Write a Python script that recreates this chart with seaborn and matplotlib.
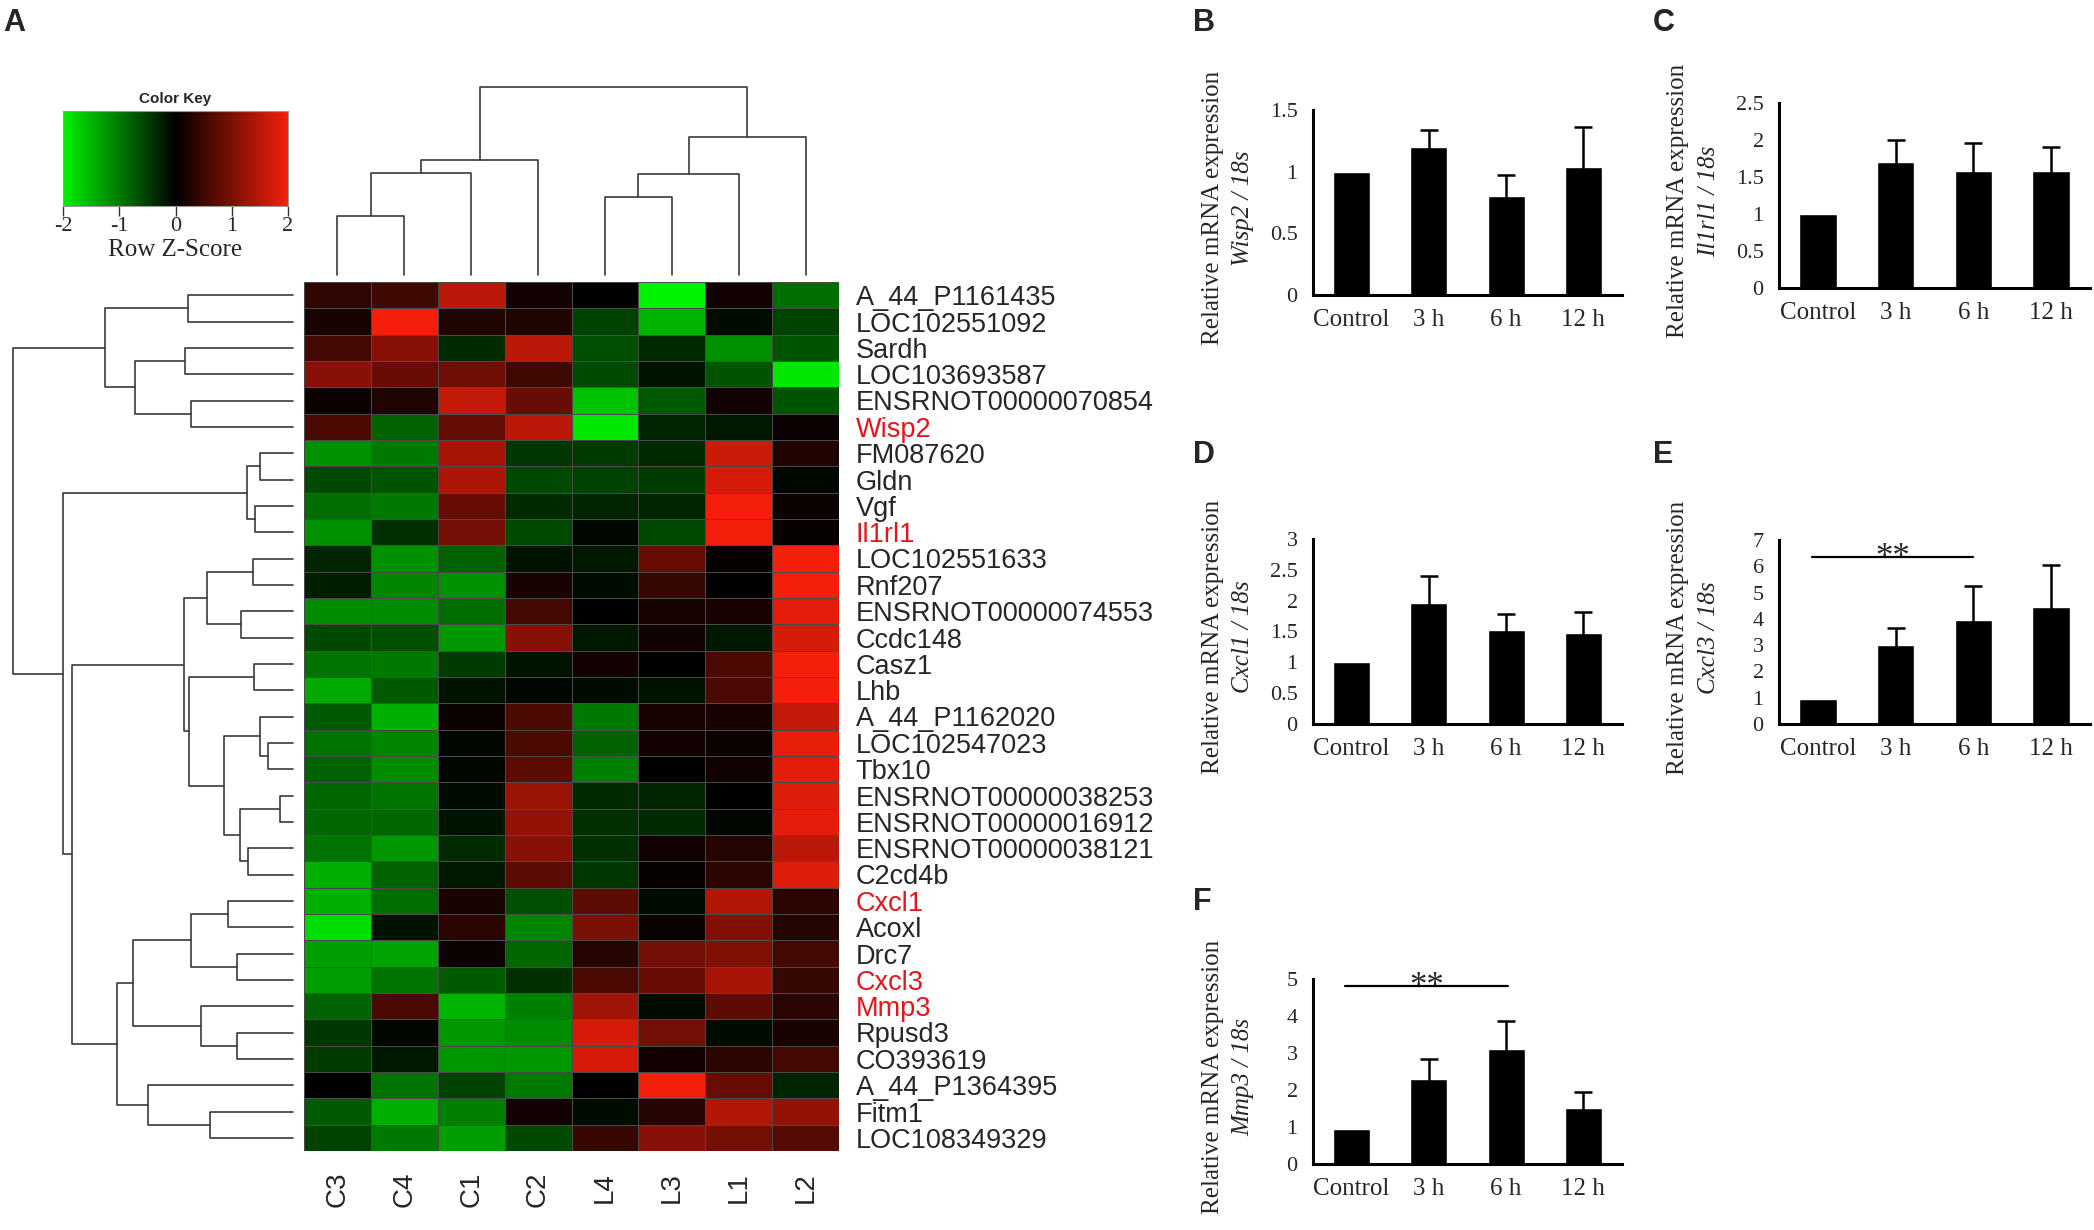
import numpy as np
import pandas as pd
import matplotlib
matplotlib.use("Agg")
import matplotlib.pyplot as plt
import seaborn as sns
from matplotlib.colors import LinearSegmentedColormap

sns.set_style("white")
plt.rcParams['font.family'] = ['Liberation Sans', 'DejaVu Sans']
plt.rcParams['axes.unicode_minus'] = False
SERIF = ['Liberation Serif', 'DejaVu Serif']

W, H = 2094, 1230

# ---- heatmap data (row z-scores, columns in clustered order) ----
samples = ['C3', 'C4', 'C1', 'C2', 'L4', 'L3', 'L1', 'L2']
genes = ['A_44_P1161435', 'LOC102551092', 'Sardh', 'LOC103693587',
         'ENSRNOT00000070854', 'Wisp2', 'FM087620', 'Gldn', 'Vgf', 'Il1rl1',
         'LOC102551633', 'Rnf207', 'ENSRNOT00000074553', 'Ccdc148', 'Casz1',
         'Lhb', 'A_44_P1162020', 'LOC102547023', 'Tbx10',
         'ENSRNOT00000038253', 'ENSRNOT00000016912', 'ENSRNOT00000038121',
         'C2cd4b', 'Cxcl1', 'Acoxl', 'Drc7', 'Cxcl3', 'Mmp3', 'Rpusd3',
         'CO393619', 'A_44_P1364395', 'Fitm1', 'LOC108349329']
highlight = ['Wisp2', 'Il1rl1', 'Cxcl1', 'Cxcl3', 'Mmp3']
zscore = [
    [0.4, 0.5, 1.5, 0.15, 0.0, -2.0, 0.15, -0.9],
    [0.2, 2.0, 0.25, 0.25, -0.55, -1.5, -0.1, -0.55],
    [0.55, 1.1, -0.35, 1.5, -0.65, -0.35, -1.2, -0.7],
    [1.1, 0.85, 0.9, 0.5, -0.6, -0.15, -0.7, -1.9],
    [0.1, 0.25, 1.6, 0.85, -1.6, -0.75, 0.15, -0.7],
    [0.6, -0.8, 0.8, 1.5, -1.9, -0.3, -0.2, 0.1],
    [-1.2, -1.0, 1.35, -0.45, -0.5, -0.35, 1.65, 0.25],
    [-0.6, -0.7, 1.4, -0.6, -0.55, -0.5, 1.75, -0.05],
    [-0.9, -1.0, 0.85, -0.35, -0.3, -0.3, 2.0, 0.1],
    [-1.2, -0.4, 0.95, -0.6, -0.05, -0.6, 2.0, 0.05],
    [-0.3, -1.2, -0.8, -0.15, -0.2, 0.85, 0.05, 2.0],
    [-0.25, -1.1, -1.2, 0.2, -0.1, 0.45, 0.0, 2.0],
    [-1.15, -1.15, -0.9, 0.55, 0.0, 0.2, 0.2, 1.85],
    [-0.6, -0.65, -1.25, 1.1, -0.2, 0.15, -0.2, 1.75],
    [-0.95, -1.0, -0.5, -0.15, 0.15, 0.0, 0.6, 2.0],
    [-1.4, -0.75, -0.15, -0.05, -0.1, -0.15, 0.6, 2.0],
    [-0.75, -1.45, 0.1, 0.6, -1.0, 0.2, 0.2, 1.6],
    [-0.95, -1.1, -0.05, 0.6, -0.8, 0.15, 0.1, 1.9],
    [-0.8, -1.15, -0.05, 0.75, -1.05, 0.0, 0.15, 1.85],
    [-0.85, -0.95, -0.1, 1.25, -0.35, -0.3, 0.0, 1.8],
    [-0.85, -0.85, -0.15, 1.2, -0.4, -0.35, -0.05, 1.85],
    [-0.95, -1.25, -0.35, 1.1, -0.4, 0.15, 0.3, 1.5],
    [-1.45, -0.8, -0.2, 0.75, -0.45, 0.05, 0.35, 1.8],
    [-1.45, -0.9, 0.2, -0.65, 0.75, -0.1, 1.45, 0.35],
    [-1.8, -0.15, 0.35, -1.1, 1.0, 0.1, 1.05, 0.3],
    [-1.3, -1.35, 0.1, -0.85, 0.3, 0.95, 1.05, 0.55],
    [-1.3, -0.95, -0.75, -0.4, 0.6, 0.85, 1.35, 0.45],
    [-0.8, 0.6, -1.5, -1.05, 1.3, -0.1, 0.75, 0.35],
    [-0.45, -0.05, -1.25, -1.15, 1.75, 0.95, -0.1, 0.2],
    [-0.5, -0.2, -1.25, -1.25, 1.75, 0.15, 0.35, 0.55],
    [0.0, -0.95, -0.55, -1.0, 0.0, 2.0, 0.85, -0.3],
    [-0.75, -1.45, -1.05, 0.15, -0.1, 0.3, 1.45, 1.2],
    [-0.55, -1.0, -1.3, -0.6, 0.45, 1.1, 0.95, 0.7],
]

# dendrogram merges (left, right, height); ids >= n are earlier merges
row_merges = [
    (0, 1, 0.376), (2, 3, 0.384), (4, 5, 0.363), (34, 35, 0.564),
    (33, 36, 0.672), (6, 7, 0.118), (8, 9, 0.136), (38, 39, 0.163),
    (10, 11, 0.144), (12, 13, 0.186), (41, 42, 0.308), (14, 15, 0.141),
    (17, 18, 0.088), (16, 45, 0.117), (19, 20, 0.045), (21, 22, 0.159),
    (47, 48, 0.191), (46, 49, 0.248), (44, 50, 0.373), (43, 51, 0.391),
    (23, 24, 0.233), (25, 26, 0.200), (53, 54, 0.365), (28, 29, 0.200),
    (27, 56, 0.329), (55, 57, 0.570), (31, 32, 0.296), (30, 59, 0.517),
    (58, 60, 0.630), (52, 61, 0.788), (40, 62, 0.821), (37, 63, 1.0),
]
col_merges = [
    (0, 1, 0.316), (8, 2, 0.540), (9, 3, 0.610), (4, 5, 0.417),
    (11, 6, 0.537), (12, 7, 0.734), (10, 13, 1.0),
]

# ---- qPCR bar data ----
time_points = ['Control', '3 h', '6 h', '12 h']
panel_genes = ['Wisp2', 'Il1rl1', 'Cxcl1', 'Cxcl3', 'Mmp3']
panel_means = [
    [1.0, 1.2, 0.8, 1.04],
    [1.0, 1.7, 1.58, 1.58],
    [1.0, 1.96, 1.53, 1.47],
    [0.95, 3.0, 3.95, 4.45],
    [0.95, 2.3, 3.1, 1.52],
]
panel_sd = [
    [0.0, 0.14, 0.17, 0.32],
    [0.0, 0.3, 0.38, 0.33],
    [0.0, 0.44, 0.25, 0.34],
    [0.0, 0.65, 1.3, 1.6],
    [0.0, 0.53, 0.77, 0.43],
]
panel_ymax = [1.5, 2.5, 3, 7, 5]
panel_step = [0.5, 0.5, 0.5, 1, 1]
# significance bars: (from, to, height) or None
panel_sig = [None, None, None, (-0.08, 2.0, 6.35), (-0.08, 2.02, 4.8)]
panel_letters = ['B', 'C', 'D', 'E', 'F']

fig = plt.figure(figsize=(W / 100, H / 100), dpi=100)


def box(l, t, r, b):
    return [l / W, 1 - b / H, (r - l) / W, (b - t) / H]


def dendro(ax, merges, n, side):
    pos = {i: i + 0.5 for i in range(n)}
    hgt = {i: 0.0 for i in range(n)}
    for k, (a, b, h) in enumerate(merges):
        p = [pos[a], pos[a], pos[b], pos[b]]
        q = [hgt[a], h, h, hgt[b]]
        if side == 'top':
            ax.plot(p, q, color='#3a3a3a', lw=1.2, clip_on=False)
        else:
            ax.plot(q, p, color='#3a3a3a', lw=1.2, clip_on=False)
        pos[n + k] = (pos[a] + pos[b]) / 2
        hgt[n + k] = h
    ax.axis('off')


# ---- heatmap ----
ax_hm = fig.add_axes(box(304, 282, 839, 1151))
ax_key = fig.add_axes(box(63, 111, 288, 206))
cmap = LinearSegmentedColormap.from_list('redgreen', ['#00f200', '#000000', '#f41f0a'])
df = pd.DataFrame(zscore, index=genes, columns=samples)
sns.heatmap(df, ax=ax_hm, cmap=cmap, vmin=-2, vmax=2, linewidths=0.6,
            linecolor='#4a4a4a', cbar_ax=ax_key,
            cbar_kws={'orientation': 'horizontal', 'ticks': [-2, -1, 0, 1, 2]},
            xticklabels=samples, yticklabels=genes)
ax_hm.yaxis.tick_right()
ax_hm.tick_params(axis='y', length=0, pad=12, labelsize=19.5, labelrotation=0)
ax_hm.tick_params(axis='x', length=0, pad=15, labelsize=20, labelrotation=90)
for lbl in ax_hm.get_yticklabels():
    lbl.set_ha('left')
    if lbl.get_text() in highlight:
        lbl.set_color('#e8141c')

cbar = ax_hm.collections[0].colorbar
cbar.outline.set_linewidth(0.8)
cbar.outline.set_edgecolor('#999999')
cbar.set_ticklabels(['-2', '-1', '0', '1', '2'])
cbar.ax.tick_params(length=7, width=1, color='#333333', labelsize=16, pad=1)
for t in cbar.ax.get_xticklabels():
    t.set_family(SERIF)
cbar.ax.set_xlabel('Row Z-Score', family=SERIF, fontsize=18, labelpad=2)
cbar.ax.set_title('Color Key', fontsize=11, fontweight='bold', pad=6)

ax_row = fig.add_axes(box(13, 282, 293, 1151))
dendro(ax_row, row_merges, len(genes), 'left')
ax_row.set_xlim(1.0, 0)
ax_row.set_ylim(len(genes), 0)

ax_col = fig.add_axes(box(304, 87, 839, 275))
dendro(ax_col, col_merges, len(samples), 'top')
ax_col.set_xlim(0, len(samples))
ax_col.set_ylim(0, 1.0)

# ---- bar panels ----
bar_boxes = [box(1313, 110, 1622, 295), box(1779, 103, 2090, 288),
             box(1313, 539, 1622, 724), box(1779, 540, 2090, 724),
             box(1313, 979, 1622, 1164)]
letter_pos = [(1193, 23), (1653, 23), (1193, 455), (1653, 455), (1193, 902)]

for i, gene in enumerate(panel_genes):
    ax = fig.add_axes(bar_boxes[i])
    d = pd.DataFrame({'time': time_points, 'value': panel_means[i],
                      'sd': panel_sd[i]})
    sns.barplot(data=d, x='time', y='value', color='black', saturation=1,
                width=0.48, errorbar=None, ax=ax)
    e = d[d['sd'] > 0]
    ax.errorbar(e.index, e['value'], yerr=e['sd'],
                fmt='none', ecolor='black', elinewidth=1.8, capsize=6.5,
                capthick=1.8)
    ax.set_xlim(-0.5, len(time_points) - 0.5)
    ax.set_ylim(0, panel_ymax[i])
    ticks = np.arange(0, panel_ymax[i] + panel_step[i] / 2, panel_step[i])
    ax.set_yticks(ticks)
    ax.set_yticklabels([f'{t:g}' for t in ticks], family=SERIF, fontsize=16)
    ax.set_xticks(range(len(time_points)))
    ax.set_xticklabels(time_points, family=SERIF, fontsize=18)
    ax.tick_params(axis='y', length=0, pad=11)
    ax.tick_params(axis='x', length=0, pad=10)
    ax.set_xlabel('')
    ax.set_ylabel('')
    sns.despine(ax=ax)
    for s in ['left', 'bottom']:
        ax.spines[s].set_linewidth(2.2)
        ax.spines[s].set_color('black')
    ax.text(-0.325, 0.47, 'Relative mRNA expression', rotation=90,
            transform=ax.transAxes, ha='center', va='center',
            family=SERIF, fontsize=18)
    ax.text(-0.225, 0.47, f'{gene} / 18s', rotation=90, style='italic',
            transform=ax.transAxes, ha='center', va='center',
            family=SERIF, fontsize=18)
    if panel_sig[i] is not None:
        x0, x1, y = panel_sig[i]
        ax.plot([x0, x1], [y, y], color='black', lw=1.6, clip_on=False)
        ax.annotate('**', xy=((x0 + x1) / 2, y), xytext=(0, -7),
                    textcoords='offset points', ha='center', va='baseline',
                    family=SERIF, fontsize=25)
    lx, ly = letter_pos[i]
    fig.text(lx / W, 1 - ly / H, panel_letters[i], fontsize=22,
             fontweight='bold', ha='left', va='center')

fig.text(3 / W, 1 - 23 / H, 'A', fontsize=22, fontweight='bold',
         ha='left', va='center')

fig.savefig('out.png', dpi=100)
